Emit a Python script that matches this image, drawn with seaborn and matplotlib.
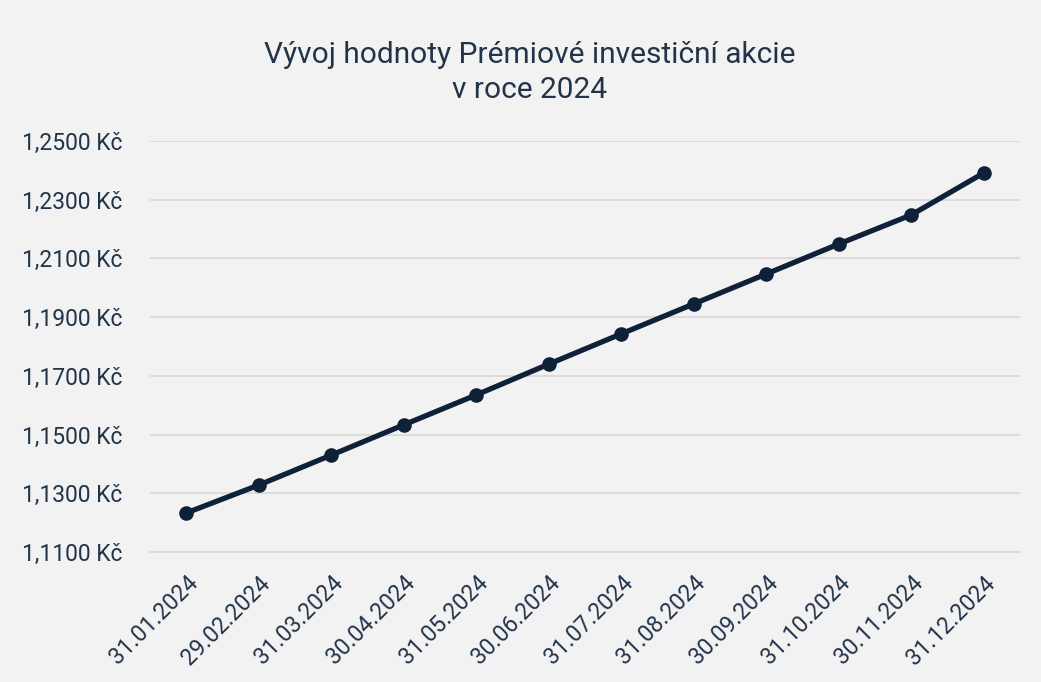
import pandas as pd
import seaborn as sns
import matplotlib.pyplot as plt
from matplotlib.ticker import FuncFormatter, FixedLocator

# --- Data ---
dates = ["31.01.2024", "29.02.2024", "31.03.2024", "30.04.2024",
         "31.05.2024", "30.06.2024", "31.07.2024", "31.08.2024",
         "30.09.2024", "31.10.2024", "30.11.2024", "31.12.2024"]
values = [1.1233, 1.1328, 1.1430, 1.1533, 1.1635, 1.1740,
          1.1843, 1.1945, 1.2047, 1.2149, 1.2248, 1.2391]
y_ticks = [1.11, 1.13, 1.15, 1.17, 1.19, 1.21, 1.23, 1.25]

df = pd.DataFrame({"Datum": dates, "Hodnota": values})

bg = "#f2f2f2"
navy = "#0e2138"
text_col = "#22344a"
grid_col = "#d9d9d9"

sns.set_style("white")
plt.rcParams["font.family"] = ["Roboto", "DejaVu Sans"]

fig = plt.figure(figsize=(10.41, 6.82), dpi=100, facecolor=bg)
ax = fig.add_axes([0.1441, 0.1906, 0.8357, 0.6027])
ax.set_facecolor(bg)

sns.lineplot(data=df, x="Datum", y="Hodnota", sort=False, ax=ax,
             color=navy, linewidth=3.8, marker="o", markersize=10.5,
             markeredgewidth=0, zorder=3)

# --- Axes styling ---
ax.set_ylim(y_ticks[0], y_ticks[-1])
ax.set_yticks(y_ticks)
ax.yaxis.set_major_formatter(
    FuncFormatter(lambda v, _: f"{v:.4f}".replace(".", ",") + " Kč"))
ax.set_xlim(-0.5, len(dates) - 0.5)
ax.grid(axis="y", color=grid_col, linewidth=1.3)
ax.set_axisbelow(True)

for side in ["top", "right", "left"]:
    ax.spines[side].set_visible(False)
ax.spines["bottom"].set_color(grid_col)
ax.spines["bottom"].set_linewidth(1.3)

ax.tick_params(axis="y", length=0, pad=20, labelsize=16.5, labelcolor=text_col)
ax.tick_params(axis="x", which="major", length=0, pad=14, labelsize=16.5,
               labelcolor=text_col)
ax.xaxis.set_minor_locator(FixedLocator([i - 0.5 for i in range(len(dates) + 1)]))
ax.tick_params(axis="x", which="minor", length=7, width=1.3, color=grid_col)
for lbl in ax.get_xticklabels():
    lbl.set_rotation(45)
    lbl.set_ha("right")
    lbl.set_rotation_mode("anchor")

ax.set_xlabel("")
ax.set_ylabel("")

fig.text(0.509, 0.894, "Vývoj hodnoty Prémiové investiční akcie\nv roce 2024",
         ha="center", va="center", fontsize=21.5, color=text_col,
         linespacing=1.3)

fig.savefig("out.png", dpi=100, facecolor=bg)
